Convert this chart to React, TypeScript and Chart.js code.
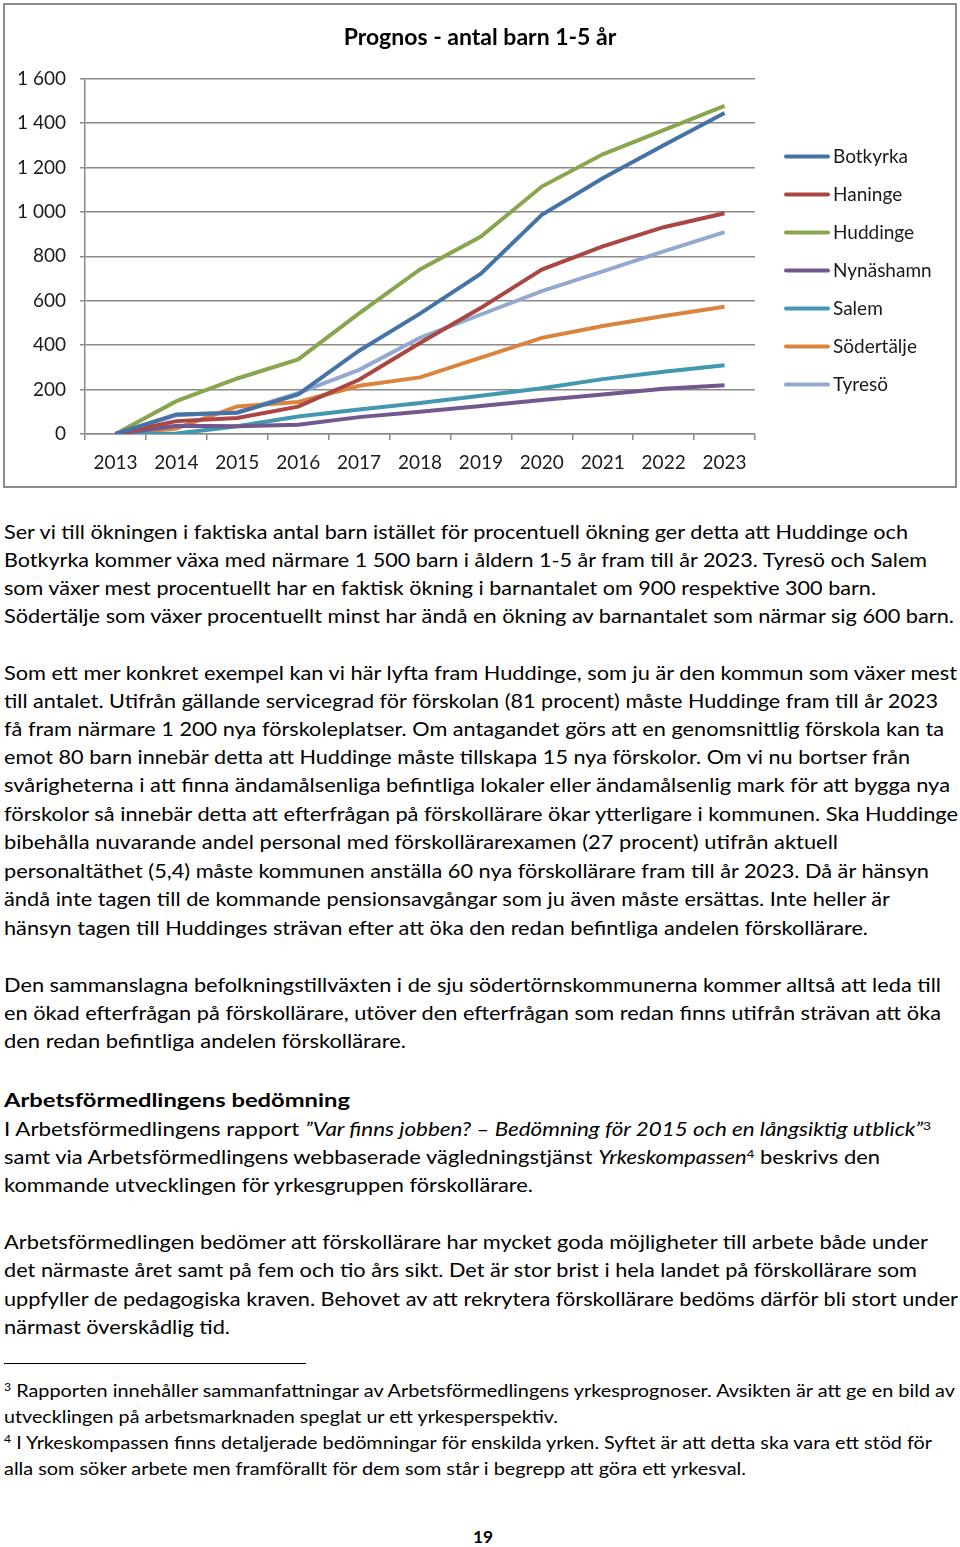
import React, { useEffect, useLayoutEffect, useRef } from "react";
import { Chart, registerables } from "chart.js";

Chart.register(...registerables);

// ---------- DATA ----------
const years = ["2013", "2014", "2015", "2016", "2017", "2018", "2019", "2020", "2021", "2022", "2023"];
const botkyrka = [0, 88, 96, 178, 375, 542, 722, 987, 1151, 1300, 1445];
const haninge = [0, 58, 72, 123, 244, 410, 568, 740, 845, 931, 994];
const huddinge = [0, 148, 250, 336, 543, 741, 889, 1114, 1259, 1368, 1477];
const nynashamn = [0, 37, 35, 42, 76, 100, 126, 153, 178, 204, 219];
const salem = [0, 2, 35, 79, 110, 140, 172, 206, 247, 280, 309];
const sodertalje = [0, 25, 124, 144, 217, 255, 344, 433, 486, 531, 573];
const tyreso = [0, 84, 98, 184, 289, 433, 538, 643, 732, 822, 909];

const seriesNames = ["Botkyrka", "Haninge", "Huddinge", "Nynäshamn", "Salem", "Södertälje", "Tyresö"];
const seriesValues = [botkyrka, haninge, huddinge, nynashamn, salem, sodertalje, tyreso];
const seriesColors = ["#4572A7", "#AA4643", "#89A54E", "#71588F", "#4198AF", "#DB843D", "#93A9CF"];

const chartTitle = "Prognos - antal barn 1-5 år";
const yMin = 0;
const yMax = 1600;
const yStep = 200;

// ---------- TEXT ----------
const para1 = [
  "Ser vi till ökningen i faktiska antal barn istället för procentuell ökning ger detta att Huddinge och",
  "Botkyrka kommer växa med närmare 1 500 barn i åldern 1-5 år fram till år 2023. Tyresö och Salem",
  "som växer mest procentuellt har en faktisk ökning i barnantalet om 900 respektive 300 barn.",
  "Södertälje som växer procentuellt minst har ändå en ökning av barnantalet som närmar sig 600 barn.",
];
const para2 = [
  "Som ett mer konkret exempel kan vi här lyfta fram Huddinge, som ju är den kommun som växer mest",
  "till antalet. Utifrån gällande servicegrad för förskolan (81 procent) måste Huddinge fram till år 2023",
  "få fram närmare 1 200 nya förskoleplatser. Om antagandet görs att en genomsnittlig förskola kan ta",
  "emot 80 barn innebär detta att Huddinge måste tillskapa 15 nya förskolor. Om vi nu bortser från",
  "svårigheterna i att finna ändamålsenliga befintliga lokaler eller ändamålsenlig mark för att bygga nya",
  "förskolor så innebär detta att efterfrågan på förskollärare ökar ytterligare i kommunen. Ska Huddinge",
  "bibehålla nuvarande andel personal med förskollärarexamen (27 procent) utifrån aktuell",
  "personaltäthet (5,4) måste kommunen anställa 60 nya förskollärare fram till år 2023. Då är hänsyn",
  "ändå inte tagen till de kommande pensionsavgångar som ju även måste ersättas. Inte heller är",
  "hänsyn tagen till Huddinges strävan efter att öka den redan befintliga andelen förskollärare.",
];
const para3 = [
  "Den sammanslagna befolkningstillväxten i de sju södertörnskommunerna kommer alltså att leda till",
  "en ökad efterfrågan på förskollärare, utöver den efterfrågan som redan finns utifrån strävan att öka",
  "den redan befintliga andelen förskollärare.",
];
const heading = "Arbetsförmedlingens bedömning";
const para5 = [
  "Arbetsförmedlingen bedömer att förskollärare har mycket goda möjligheter till arbete både under",
  "det närmaste året samt på fem och tio års sikt. Det är stor brist i hela landet på förskollärare som",
  "uppfyller de pedagogiska kraven. Behovet av att rekrytera förskollärare bedöms därför bli stort under",
  "närmast överskådlig tid.",
];
const pageNumber = "19";

// layout: [centerY, rightEdge]
const para1Layout = [[532, 908], [560, 927], [588, 876], [616, 954]];
const para2Layout = [[673, 957], [701, 938], [729, 944], [757, 910], [785, 950], [814, 958], [842, 838], [871, 929], [899, 890], [928, 868]];
const para3Layout = [[985, 941], [1013, 941], [1041, 406]];
const para5Layout = [[1242, 928], [1270, 917], [1299, 958], [1327, 230]];

const FONT = "Lato, 'Open Sans', sans-serif";
const BODY_SIZE = 19;
const LINE_H = 28;

function FitLine(props: {
  cy: number;
  right: number;
  left?: number;
  size?: number;
  bold?: boolean;
  lh?: number;
  children: React.ReactNode;
}) {
  const { cy, right, left = 4, size = BODY_SIZE, bold = false, lh = LINE_H, children } = props;
  const ref = useRef<HTMLSpanElement>(null);
  useLayoutEffect(() => {
    const fit = () => {
      const el = ref.current;
      if (!el) return;
      el.style.transform = "none";
      const w = el.getBoundingClientRect().width;
      if (w > 0) el.style.transform = `scaleX(${(right - left) / w})`;
    };
    fit();
    if ((document as any).fonts && (document as any).fonts.ready) {
      (document as any).fonts.ready.then(fit);
    }
  }, [right, left]);
  return (
    <div
      style={{
        position: "absolute",
        left,
        top: cy - lh / 2,
        height: lh,
        lineHeight: lh + "px",
        whiteSpace: "nowrap",
        fontFamily: FONT,
        fontSize: size,
        fontWeight: bold ? 700 : 400,
        color: "#000",
      }}
    >
      <span ref={ref} style={{ display: "inline-block", transformOrigin: "left center" }}>
        {children}
      </span>
    </div>
  );
}

const sup: React.CSSProperties = { fontSize: "0.62em", verticalAlign: "0.55em", lineHeight: 0 };

function fmt(v: number): string {
  if (v >= 1000) return `${Math.floor(v / 1000)} ${String(v % 1000).padStart(3, "0")}`;
  return String(v);
}

const sideLegend = {
  id: "sideLegend",
  afterDraw(chart: any) {
    const ctx = chart.ctx as CanvasRenderingContext2D;
    const area = chart.chartArea;
    chart.data.datasets.forEach((ds: any, i: number) => {
      const y = area.top + 78 + i * 38;
      const x0 = area.right + 31;
      ctx.save();
      ctx.strokeStyle = ds.borderColor;
      ctx.lineWidth = 4;
      ctx.lineCap = "round";
      ctx.beginPath();
      ctx.moveTo(x0, y);
      ctx.lineTo(x0 + 42, y);
      ctx.stroke();
      ctx.fillStyle = "#1a1a1a";
      ctx.font = `19px ${FONT}`;
      ctx.textBaseline = "middle";
      ctx.textAlign = "left";
      ctx.fillText(ds.label, x0 + 47, y);
      ctx.restore();
    });
  },
};

function ChartBox() {
  const canvasRef = useRef<HTMLCanvasElement>(null);
  useEffect(() => {
    const canvas = canvasRef.current;
    if (!canvas) return;
    const chart = new Chart(canvas, {
      type: "line",
      data: {
        labels: years,
        datasets: seriesNames.map((name, i) => ({
          label: name,
          data: seriesValues[i],
          borderColor: seriesColors[i],
          backgroundColor: seriesColors[i],
          borderWidth: 4,
          pointRadius: 0,
          pointHoverRadius: 0,
          tension: 0,
          fill: false,
        })),
      },
      options: {
        animation: false,
        responsive: false,
        maintainAspectRatio: false,
        events: [],
        layout: { padding: { left: 0, right: 0, top: 0, bottom: 0 } },
        plugins: {
          legend: { display: false },
          tooltip: { enabled: false },
          title: {
            display: true,
            text: chartTitle,
            color: "#000",
            font: { family: FONT, size: 23, weight: "bold" },
            padding: { top: 19, bottom: 27 },
          },
        },
        scales: {
          x: {
            offset: true,
            grid: {
              offset: true,
              drawOnChartArea: false,
              drawTicks: true,
              tickLength: 6,
              color: "#8a8a8a",
              lineWidth: 1.5,
            },
            border: { color: "#8a8a8a", width: 1.5 },
            ticks: { font: { family: FONT, size: 19 }, color: "#1a1a1a", padding: 11, maxRotation: 0 },
            afterFit: (s: any) => {
              s.height = 52;
            },
          },
          y: {
            min: yMin,
            max: yMax,
            grid: { color: "#8a8a8a", lineWidth: 1.5, tickLength: 5 },
            border: { color: "#8a8a8a", width: 1.5 },
            ticks: {
              stepSize: yStep,
              font: { family: FONT, size: 19 },
              color: "#1a1a1a",
              padding: 14,
              callback: (v: any) => fmt(Number(v)),
            },
            afterFit: (s: any) => {
              s.width = 80;
            },
          },
          legendSpace: {
            type: "linear",
            position: "right",
            display: true,
            grid: { display: false, drawTicks: false },
            border: { display: false },
            ticks: { display: false },
            afterFit: (s: any) => {
              s.width = 200;
            },
          },
        },
      },
      plugins: [sideLegend],
    } as any);
    return () => chart.destroy();
  }, []);
  return (
    <div
      style={{
        position: "absolute",
        left: 3,
        top: 3,
        width: 954,
        height: 485,
        border: "2px solid #8c8c8c",
        boxSizing: "border-box",
        background: "#fff",
      }}
    >
      <canvas ref={canvasRef} width={950} height={481} style={{ display: "block", width: 950, height: 481 }} />
    </div>
  );
}

export default function App() {
  useEffect(() => {
    document.body.style.margin = "0";
    document.body.style.background = "#fff";
  }, []);
  return (
    <div style={{ position: "relative", width: 960, height: 1547, background: "#fff", overflow: "hidden" }}>
      <ChartBox />
      {para1.map((t, i) => (
        <FitLine key={"p1" + i} cy={para1Layout[i][0]} right={para1Layout[i][1]}>{t}</FitLine>
      ))}
      {para2.map((t, i) => (
        <FitLine key={"p2" + i} cy={para2Layout[i][0]} right={para2Layout[i][1]}>{t}</FitLine>
      ))}
      {para3.map((t, i) => (
        <FitLine key={"p3" + i} cy={para3Layout[i][0]} right={para3Layout[i][1]}>{t}</FitLine>
      ))}
      <FitLine cy={1100} right={350} bold>{heading}</FitLine>
      <FitLine cy={1129} right={931}>
        I Arbetsförmedlingens rapport{" "}
        <i>”Var finns jobben? – Bedömning för 2015 och en långsiktig utblick”</i>
        <span style={sup}>3</span>
      </FitLine>
      <FitLine cy={1157} right={880}>
        samt via Arbetsförmedlingens webbaserade vägledningstjänst <i>Yrkeskompassen</i>
        <span style={sup}>4</span> beskrivs den
      </FitLine>
      <FitLine cy={1185} right={533}>kommande utvecklingen för yrkesgruppen förskollärare.</FitLine>
      {para5.map((t, i) => (
        <FitLine key={"p5" + i} cy={para5Layout[i][0]} right={para5Layout[i][1]}>{t}</FitLine>
      ))}
      <div style={{ position: "absolute", left: 4, top: 1363, width: 302, height: 1, background: "#000" }} />
      <FitLine cy={1391} right={955} size={17} lh={26}>
        <span style={sup}>3</span> Rapporten innehåller sammanfattningar av Arbetsförmedlingens yrkesprognoser. Avsikten är att ge en bild av
      </FitLine>
      <FitLine cy={1417} right={558} size={17} lh={26}>
        utvecklingen på arbetsmarknaden speglat ur ett yrkesperspektiv.
      </FitLine>
      <FitLine cy={1443} right={932} size={17} lh={26}>
        <span style={sup}>4</span> I Yrkeskompassen finns detaljerade bedömningar för enskilda yrken. Syftet är att detta ska vara ett stöd för
      </FitLine>
      <FitLine cy={1469} right={746} size={17} lh={26}>
        alla som söker arbete men framförallt för dem som står i begrepp att göra ett yrkesval.
      </FitLine>
      <FitLine cy={1537} left={473} right={493} size={17} bold>{pageNumber}</FitLine>
    </div>
  );
}
